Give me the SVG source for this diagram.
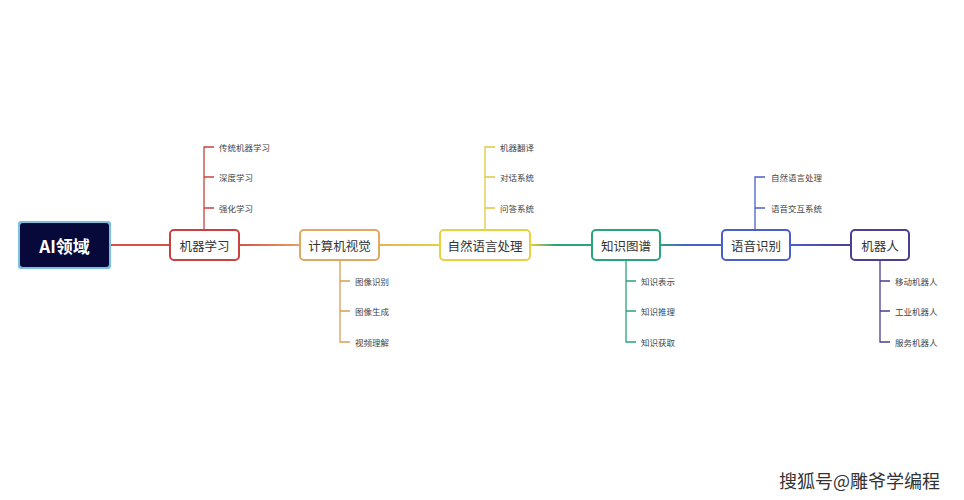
<svg xmlns="http://www.w3.org/2000/svg" width="964" height="500" viewBox="0 0 964 500">
<defs>
<linearGradient id="g1" gradientUnits="userSpaceOnUse" x1="239" x2="300" y1="0" y2="0"><stop offset="0" stop-color="#d4524a"/><stop offset="1" stop-color="#e8a060"/></linearGradient>
<linearGradient id="g2" gradientUnits="userSpaceOnUse" x1="379" x2="440" y1="0" y2="0"><stop offset="0" stop-color="#e8b050"/><stop offset="1" stop-color="#e8d040"/></linearGradient>
<linearGradient id="g3" gradientUnits="userSpaceOnUse" x1="530" x2="592" y1="0" y2="0"><stop offset="0" stop-color="#e8d040"/><stop offset="0.4" stop-color="#2aa57a"/><stop offset="1" stop-color="#2aa57a"/></linearGradient>
<linearGradient id="g4" gradientUnits="userSpaceOnUse" x1="660" x2="722" y1="0" y2="0"><stop offset="0" stop-color="#2aa57a"/><stop offset="0.4" stop-color="#4a60c8"/><stop offset="1" stop-color="#4a60c8"/></linearGradient>
<linearGradient id="g5" gradientUnits="userSpaceOnUse" x1="790" x2="851" y1="0" y2="0"><stop offset="0" stop-color="#4a60c8"/><stop offset="1" stop-color="#4a3f90"/></linearGradient>
</defs>
<style>
text{font-family:"Noto Sans CJK SC","Noto Sans",sans-serif}
.n{fill:#fff;stroke-width:2}
.t{font-size:12.5px;fill:#333;text-anchor:middle;dominant-baseline:central}
.s{font-size:8.5px;fill:#444;dominant-baseline:central}
.l{fill:none;stroke-width:1.3}
</style>
<rect width="964" height="500" fill="#fff"/>
<g id="connectors">
<line x1="110" y1="245" x2="170" y2="245" stroke="#d4524a" stroke-width="2"/>
<line x1="239" y1="245" x2="300" y2="245" stroke="url(#g1)" stroke-width="2"/>
<line x1="379" y1="245" x2="440" y2="245" stroke="url(#g2)" stroke-width="2"/>
<line x1="530" y1="245" x2="592" y2="245" stroke="url(#g3)" stroke-width="2"/>
<line x1="660" y1="245" x2="722" y2="245" stroke="url(#g4)" stroke-width="2"/>
<line x1="790" y1="245" x2="851" y2="245" stroke="url(#g5)" stroke-width="2"/>
<path class="l" stroke="#c9423f" d="M204 230V147H214M204 177H214M204 208H214"/>
<path class="l" stroke="#d9a050" d="M340 260V342H350M340 281H350M340 311H350"/>
<path class="l" stroke="#e0c840" d="M485 230V147H495M485 177H495M485 208H495"/>
<path class="l" stroke="#2aa57a" d="M626 260V342H636M626 281H636M626 311H636"/>
<path class="l" stroke="#4a60c8" d="M755 230V177H765M755 208H765"/>
<path class="l" stroke="#4a3f90" d="M880 260V342H890M880 281H890M880 311H890"/>
</g>
<g id="root"><rect x="18" y="221" width="93" height="48" rx="3" fill="#7cc0e0"/><rect x="20" y="223" width="89" height="44" rx="3" fill="#06093a"/><text x="64.5" y="245" class="t" style="fill:#fff;font-size:17px;font-weight:bold">AI领域</text></g>
<g id="ml"><rect class="n" x="170" y="230" width="69" height="30" rx="4" stroke="#c9423f"/><text class="t" x="204.5" y="245">机器学习</text>
<text class="s" x="219" y="147">传统机器学习</text><text class="s" x="219" y="177">深度学习</text><text class="s" x="219" y="208">强化学习</text></g>
<g id="cv"><rect class="n" x="300" y="230" width="79" height="30" rx="4" stroke="#e0a860"/><text class="t" x="339.5" y="245">计算机视觉</text>
<text class="s" x="355" y="281">图像识别</text><text class="s" x="355" y="311">图像生成</text><text class="s" x="355" y="342">视频理解</text></g>
<g id="nlp"><rect class="n" x="440" y="230" width="90" height="30" rx="4" stroke="#e8d040"/><text class="t" x="485" y="245">自然语言处理</text>
<text class="s" x="500" y="147">机器翻译</text><text class="s" x="500" y="177">对话系统</text><text class="s" x="500" y="208">问答系统</text></g>
<g id="kg"><rect class="n" x="592" y="230" width="68" height="30" rx="4" stroke="#2aa57a"/><text class="t" x="626" y="245">知识图谱</text>
<text class="s" x="641" y="281">知识表示</text><text class="s" x="641" y="311">知识推理</text><text class="s" x="641" y="342">知识获取</text></g>
<g id="sr"><rect class="n" x="722" y="230" width="68" height="30" rx="4" stroke="#4a60c8"/><text class="t" x="756" y="245">语音识别</text>
<text class="s" x="771" y="177">自然语言处理</text><text class="s" x="771" y="208">语音交互系统</text></g>
<g id="robot"><rect class="n" x="851" y="230" width="58" height="30" rx="4" stroke="#4a3f90"/><text class="t" x="880" y="245">机器人</text>
<text class="s" x="895" y="281">移动机器人</text><text class="s" x="895" y="311">工业机器人</text><text class="s" x="895" y="342">服务机器人</text></g>
<text x="940" y="480" style="font-size:18px;fill:#333;text-anchor:end;dominant-baseline:central">搜狐号@雕爷学编程</text>
</svg>
